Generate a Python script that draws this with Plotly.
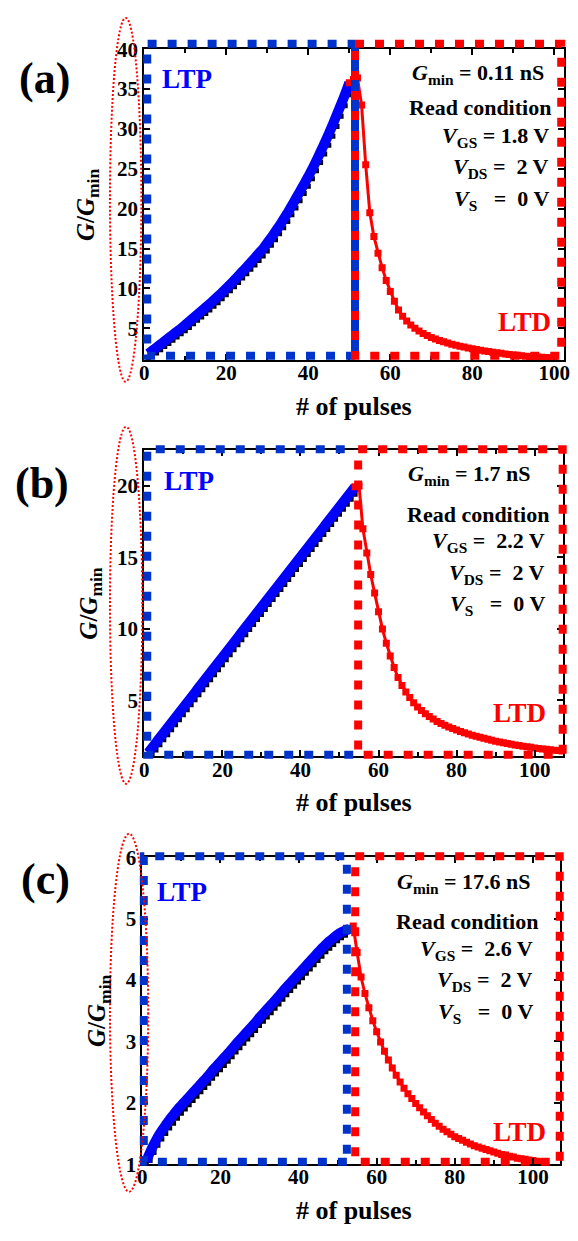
import plotly.graph_objects as go

W, H = 578, 1241
SERIF = "Liberation Serif, Times New Roman, Times, serif"
BLUE_LINE = "#0000ff"
BLUE_BOX = "#0033cc"
RED = "#ff0000"

# ---------------- data ----------------
# (a) G_min = 0.11 nS
ltp_pulses_a = list(range(1, 51))
ltp_fit_a = [1.8, 2.2, 2.6, 3.0, 3.4, 3.8, 4.2, 4.6, 5.0, 5.43, 5.86, 6.3, 6.74, 7.18, 7.63,
             8.08, 8.54, 9.02, 9.5, 10.0, 10.52, 11.05, 11.6, 12.15, 12.7, 13.27, 13.85, 14.43,
             15.0, 15.7, 16.4, 17.15, 17.9, 18.7, 19.5, 20.4, 21.3, 22.2, 23.1, 24.05, 25.0,
             26.05, 27.15, 28.25, 29.4, 30.6, 31.85, 33.1, 34.4, 35.8]
ltp_meas_a = [1.1, 1.5, 1.9, 2.3, 2.7, 3.1, 3.5, 3.9, 4.3, 4.7, 5.1, 5.55, 6.0, 6.4, 6.85,
              7.3, 7.75, 8.2, 8.7, 9.2, 9.7, 10.2, 10.75, 11.3, 11.85, 12.4, 12.95, 13.5,
              14.05, 14.7, 15.4, 16.1, 16.85, 17.6, 18.4, 19.25, 20.1, 21.0, 21.9, 22.8, 23.75,
              24.75, 25.8, 26.85, 27.95, 29.1, 30.3, 31.6, 32.9, 34.3]
ltd_pulses_a = list(range(51, 101))
ltd_a = [36.2, 36.4, 33.0, 25.5, 19.5, 16.5, 14.4, 12.6, 11.0, 9.6, 8.4, 7.3, 6.5, 5.9, 5.4,
         5.0, 4.65, 4.35, 4.1, 3.85, 3.65, 3.47, 3.3, 3.15, 3.0, 2.87, 2.75, 2.64, 2.53, 2.43,
         2.33, 2.24, 2.15, 2.07, 1.99, 1.92, 1.85, 1.78, 1.72, 1.66, 1.6, 1.55, 1.5, 1.46,
         1.42, 1.38, 1.35, 1.32, 1.29, 1.27]

# (b) G_min = 1.7 nS
ltp_pulses_b = list(range(1, 55))
ltp_fit_b = [1.35, 1.70, 2.05, 2.41, 2.76, 3.11, 3.46, 3.81, 4.16, 4.51, 4.86, 5.21, 5.56,
             5.92, 6.27, 6.62, 6.97, 7.32, 7.67, 8.02, 8.37, 8.72, 9.07, 9.42, 9.77, 10.12,
             10.47, 10.82, 11.17, 11.52, 11.87, 12.22, 12.57, 12.92, 13.27, 13.62, 13.97,
             14.32, 14.67, 15.02, 15.37, 15.72, 16.07, 16.42, 16.77, 17.12, 17.47, 17.82,
             18.17, 18.52, 18.87, 19.22, 19.57, 19.92]
ltp_meas_b = [1.0, 1.2, 1.55, 1.9, 2.25, 2.6, 2.95, 3.3, 3.65, 4.0, 4.35, 4.7, 5.05,
              5.4, 5.75, 6.1, 6.45, 6.8, 7.15, 7.5, 7.85, 8.2, 8.55, 8.9, 9.25, 9.6,
              9.95, 10.3, 10.65, 11.0, 11.35, 11.7, 12.05, 12.4, 12.75, 13.1, 13.45,
              13.8, 14.15, 14.5, 14.85, 15.2, 15.55, 15.9, 16.25, 16.6, 16.95, 17.3,
              17.65, 18.0, 18.35, 18.7, 19.05, 19.4]
ltd_pulses_b = list(range(55, 108))
ltd_b = [20.0, 17.0, 15.3, 13.8, 12.5, 11.2, 10.0, 9.0, 8.1, 7.3, 6.6, 6.05, 5.6, 5.2, 4.85,
         4.55, 4.3, 4.08, 3.88, 3.7, 3.54, 3.4, 3.27, 3.15, 3.04, 2.94, 2.84, 2.75, 2.66,
         2.58, 2.5, 2.43, 2.36, 2.29, 2.22, 2.16, 2.1, 2.04, 1.99, 1.94, 1.89, 1.85, 1.81,
         1.77, 1.73, 1.69, 1.65, 1.62, 1.59, 1.56, 1.53, 1.5, 1.47]

# (c) G_min = 17.6 nS
ltp_pulses_c = list(range(1, 54))
ltp_fit_c = [1.05, 1.2, 1.33, 1.45, 1.55, 1.64, 1.73, 1.81, 1.89, 1.96, 2.03, 2.10, 2.17,
             2.24, 2.31, 2.38, 2.45, 2.53, 2.60, 2.67, 2.74, 2.81, 2.88, 2.96, 3.03, 3.10,
             3.17, 3.24, 3.31, 3.39, 3.46, 3.53, 3.60, 3.67, 3.74, 3.82, 3.89, 3.96, 4.03,
             4.10, 4.17, 4.24, 4.31, 4.38, 4.45, 4.52, 4.58, 4.64, 4.69, 4.74, 4.78, 4.81, 4.83]
ltp_meas_c = [1.0, 1.06, 1.19, 1.31, 1.41, 1.50, 1.59, 1.67, 1.75, 1.83, 1.90, 1.97, 2.04,
              2.11, 2.18, 2.25, 2.32, 2.40, 2.47, 2.54, 2.61, 2.68, 2.75, 2.83, 2.90, 2.97,
              3.04, 3.11, 3.18, 3.26, 3.33, 3.40, 3.47, 3.54, 3.61, 3.69, 3.76, 3.83, 3.90,
              3.97, 4.04, 4.11, 4.18, 4.25, 4.32, 4.39, 4.46, 4.52, 4.58, 4.64, 4.69, 4.73, 4.80]
ltd_pulses_c = list(range(54, 103))
ltd_c = [4.88, 4.45, 4.05, 3.78, 3.55, 3.34, 3.16, 2.99, 2.84, 2.7, 2.57, 2.45, 2.34, 2.24,
         2.15, 2.07, 1.99, 1.92, 1.85, 1.79, 1.73, 1.67, 1.62, 1.57, 1.53, 1.49, 1.45, 1.42,
         1.39, 1.36, 1.33, 1.3, 1.28, 1.26, 1.24, 1.22, 1.2, 1.18, 1.16, 1.15, 1.13, 1.12,
         1.1, 1.09, 1.08, 1.07, 1.06, 1.05, 1.04]

gmin_labels = ["0.11 nS", "1.7 nS", "17.6 nS"]
vgs_labels = ["1.8 V", "\u00a02.2 V", "\u00a02.6 V"]
panel_tags = ["(a)", "(b)", "(c)"]


def fx(p):
    return p / W


def fy(p):
    return 1 - p / H


# plot boxes in pixels (left, top, right, bottom) and axis ranges
panels = [
    dict(box=(142, 38, 570, 355), xr=[0, 102.4], yr=[1, 40], dy=5,
         ltp=(ltp_pulses_a, ltp_fit_a, ltp_meas_a), ltd=(ltd_pulses_a, ltd_a),
         blue=(145, 32.5, 350.5, 356.8), red=(356.8, 567.0), blue_div=True,
         ell=(107, 6, 139, 377), ytitle_x=84,
         texty=[63, 97, 127, 159, 192], textr=[551, 559, 557, 557, 557],
         ltp_xy=(186, 68), ltd_xy=(530, 316), tag_xy=(40, 68)),
    dict(box=(142, 447, 569, 759), xr=[0, 107.3], yr=[1.1, 22.47], dy=5,
         ltp=(ltp_pulses_b, ltp_fit_b, ltp_meas_b), ltd=(ltd_pulses_b, ltd_b),
         blue=(145, 446, 757.5, 355), red=(360, 568.5), blue_div=False,
         ell=(107, 423, 140, 787), ytitle_x=87,
         texty=[472, 512, 540, 573, 605], textr=[538, 557, 553, 553, 553],
         ltp_xy=(188, 478), ltd_xy=(524, 715), tag_xy=(38, 481)),
    dict(box=(140, 862, 566, 1175), xr=[0, 107], yr=[1, 6], dy=1,
         ltp=(ltp_pulses_c, ltp_fit_c, ltp_meas_c), ltd=(ltd_pulses_c, ltd_c),
         blue=(141.5, 861, 1172.5, 348.5), red=(357, 565.5), blue_div=True,
         ell=(107, 838, 146, 1203), ytitle_x=96,
         texty=[888, 927, 957, 988, 1021], textr=[538, 545, 540, 540, 540],
         ltp_xy=(180, 897), ltd_xy=(524, 1142), tag_xy=(41, 885)),
]

fig = go.Figure()
layout = dict(width=W, height=H, margin=dict(l=0, r=0, t=0, b=0),
              paper_bgcolor="white", plot_bgcolor="white", showlegend=False,
              font=dict(family=SERIF, color="black"))
shapes, annotations = [], []

tickfont = dict(family=SERIF, size=21, color="black", weight="bold")
axis_common = dict(showline=True, linecolor="black", linewidth=2, mirror="allticks",
                   ticks="inside", ticklen=6, tickwidth=1.5, tickcolor="black",
                   showgrid=False, zeroline=False, tickfont=tickfont)
DASH = "9px,11px"

for i, p in enumerate(panels):
    k = "" if i == 0 else str(i + 1)
    xa, ya = "x" + k, "y" + k
    l, t, r, b = p["box"]
    layout["xaxis" + k] = dict(axis_common, domain=[fx(l), fx(r)], range=p["xr"],
                               anchor=ya, tick0=0, dtick=20, ticklabelstandoff=-7,
                               minor=dict(ticks="inside", dtick=10, ticklen=4,
                                          tickwidth=1.5, tickcolor="black", showgrid=False))
    layout["yaxis" + k] = dict(axis_common, domain=[fy(b), fy(t)], range=p["yr"],
                               anchor=xa, tick0=0, dtick=p["dy"])

    pulses, fit, meas = p["ltp"]
    fig.add_trace(go.Scatter(x=pulses, y=meas, mode="markers", xaxis=xa, yaxis=ya,
                             marker=dict(symbol="square", size=5, color="black")))
    fig.add_trace(go.Scatter(x=pulses, y=fit, mode="lines", xaxis=xa, yaxis=ya,
                             line=dict(color=BLUE_LINE, width=10, shape="spline", smoothing=0.6)))
    dx, dv = p["ltd"]
    fig.add_trace(go.Scatter(x=[pulses[-1]] + dx, y=[fit[-1]] + dv, mode="lines+markers",
                             xaxis=xa, yaxis=ya, line=dict(color=RED, width=3),
                             marker=dict(symbol="square", size=7, color=RED)))

    # LTP / LTD dashed frames
    bl, bt, bb, bdiv = p["blue"]
    rl, rr = p["red"]
    if p["blue_div"] and i == 0:
        shapes.append(dict(type="line", xref="paper", yref="paper", x0=fx(bdiv), x1=fx(bdiv),
                           y0=fy(bb), y1=fy(bt), line=dict(color=BLUE_BOX, width=8)))
        blue_path = f"M{fx(bdiv)},{fy(bb)} L{fx(bl)},{fy(bb)} L{fx(bl)},{fy(bt)} L{fx(bdiv)},{fy(bt)}"
    elif p["blue_div"]:
        blue_path = (f"M{fx(bdiv)},{fy(bb)} L{fx(bl)},{fy(bb)} L{fx(bl)},{fy(bt)} "
                     f"L{fx(bdiv)},{fy(bt)} L{fx(bdiv)},{fy(bb)}")
    else:
        blue_path = f"M{fx(bdiv)},{fy(bb)} L{fx(bl)},{fy(bb)} L{fx(bl)},{fy(bt)} L{fx(bdiv)},{fy(bt)}"
    shapes.append(dict(type="path", xref="paper", yref="paper", path=blue_path,
                       line=dict(color=BLUE_BOX, width=8, dash=DASH)))
    red_path = (f"M{fx(rl)},{fy(bt)} L{fx(rr)},{fy(bt)} L{fx(rr)},{fy(bb)} "
                f"L{fx(rl)},{fy(bb)} L{fx(rl)},{fy(bt)}")
    shapes.append(dict(type="path", xref="paper", yref="paper", path=red_path,
                       line=dict(color=RED, width=8, dash=DASH)))

    # dotted ellipse around the y tick labels
    e0, e1, e2, e3 = p["ell"]
    shapes.append(dict(type="circle", xref="paper", yref="paper",
                       x0=fx(e0), x1=fx(e2), y0=fy(e3), y1=fy(e1),
                       line=dict(color=RED, width=2, dash="2px,2px")))

    # axis titles
    annotations.append(dict(xref="paper", yref="paper", x=fx(p["ytitle_x"]), y=fy((t + b) / 2),
                            text="<i>G</i>/<i>G</i><sub>min</sub>", textangle=-90,
                            showarrow=False, xanchor="center", yanchor="middle",
                            font=dict(family=SERIF, size=25, color="black", weight="bold")))
    annotations.append(dict(xref="paper", yref="paper", x=fx(356), y=fy(b + 47),
                            text="# of pulses", showarrow=False, xanchor="center",
                            yanchor="middle",
                            font=dict(family=SERIF, size=26, color="black", weight="bold")))

    # condition text block
    lines = [f"<i>G</i><sub>min</sub> = {gmin_labels[i]}",
             "Read condition",
             f"<i>V</i><sub>GS</sub> = {vgs_labels[i]}",
             "<i>V</i><sub>DS</sub> =\u00a0 2 V",
             "<i>V</i><sub>S</sub>\u00a0\u00a0 =\u00a0 0 V"]
    for txt, yy, rx in zip(lines, p["texty"], p["textr"]):
        annotations.append(dict(xref="paper", yref="paper", x=fx(rx), y=fy(yy), text=txt,
                                showarrow=False, xanchor="right", yanchor="middle",
                                font=dict(family=SERIF, size=22, color="black", weight="bold")))

    annotations.append(dict(xref="paper", yref="paper", x=fx(p["ltp_xy"][0]), y=fy(p["ltp_xy"][1]),
                            text="LTP", showarrow=False, xanchor="center", yanchor="middle",
                            font=dict(family=SERIF, size=27, color=BLUE_LINE, weight="bold")))
    annotations.append(dict(xref="paper", yref="paper", x=fx(p["ltd_xy"][0]), y=fy(p["ltd_xy"][1]),
                            text="LTD", showarrow=False, xanchor="center", yanchor="middle",
                            font=dict(family=SERIF, size=27, color=RED, weight="bold")))
    annotations.append(dict(xref="paper", yref="paper", x=fx(p["tag_xy"][0]), y=fy(p["tag_xy"][1]),
                            text=panel_tags[i], showarrow=False, xanchor="center", yanchor="middle",
                            font=dict(family=SERIF, size=44, color="black", weight="bold")))

layout["shapes"] = shapes
layout["annotations"] = annotations
fig.update_layout(**layout)
fig.write_html("out.html")
